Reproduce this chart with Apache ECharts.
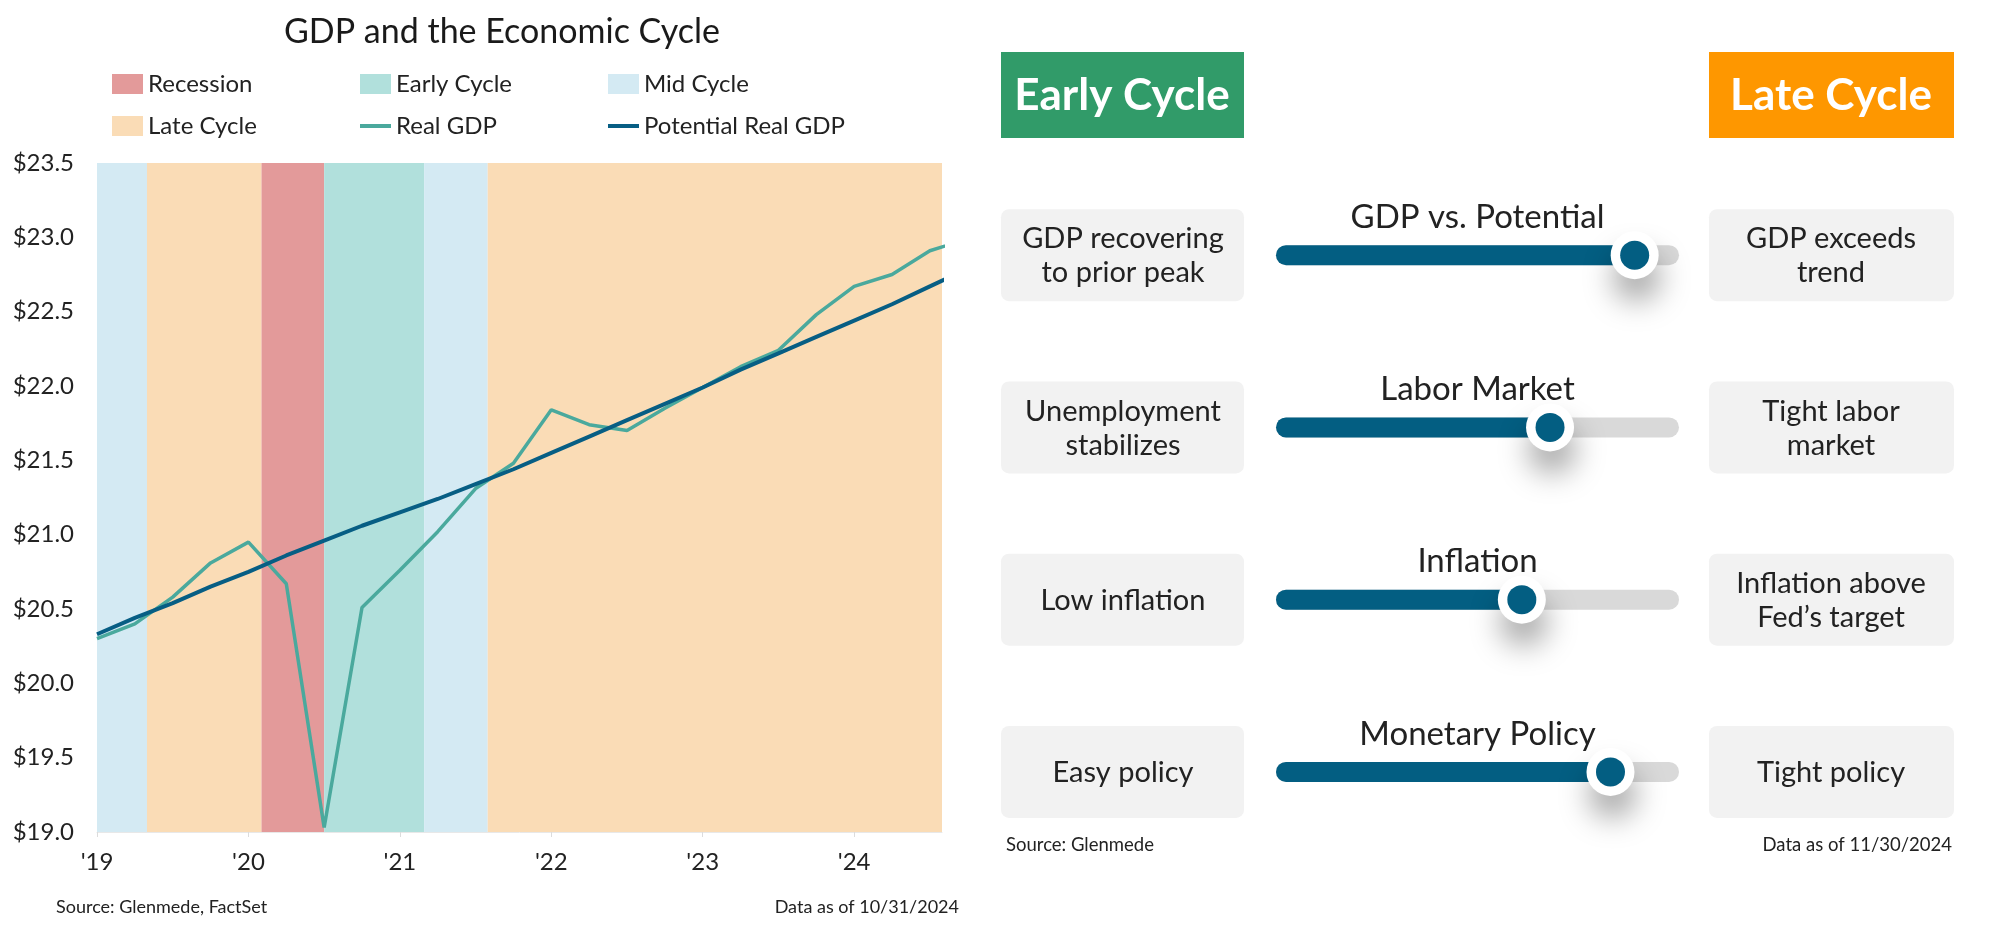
<!DOCTYPE html>
<html><head><meta charset="utf-8">
<script src="https://cdn.jsdelivr.net/npm/echarts@6/dist/echarts.min.js"></script>
<style>html,body{margin:0;padding:0;background:#fff}#c{width:2000px;height:928px}</style>
</head><body><div id="c"></div>
<script>
// ---- data ----
const quarters = ['2018Q4','2019Q1','2019Q2','2019Q3','2019Q4','2020Q1','2020Q2','2020Q3','2020Q4',
  '2021Q1','2021Q2','2021Q3','2021Q4','2022Q1','2022Q2','2022Q3','2022Q4',
  '2023Q1','2023Q2','2023Q3','2023Q4','2024Q1','2024Q2','2024Q3'];
const realGDP = [20.30,20.40,20.58,20.81,20.95,20.67,19.03,20.51,20.76,
  21.02,21.31,21.48,21.84,21.74,21.70,21.85,21.99,
  22.13,22.24,22.48,22.67,22.75,22.91,22.99];
const potentialGDP = [20.33,20.44,20.54,20.65,20.75,20.86,20.96,21.06,21.15,
  21.24,21.34,21.44,21.55,21.66,21.77,21.88,21.99,
  22.11,22.22,22.33,22.44,22.55,22.67,22.79];
const recessionBands = [[2020.085, 2020.5]];
const earlyBands = [[2020.5, 2021.16]];
const midBands = [[2019.0, 2019.33], [2021.16, 2021.58]];
const lateBands = [[2019.33, 2020.085], [2021.58, 2024.58]];
const yTickMin = 19, yTickMax = 23.5, yTickStep = 0.5;
const xStart = 2019, xEnd = 2024.58;

const sliderTitles = ['GDP vs. Potential','Labor Market','Inflation','Monetary Policy'];
const sliderValues = [89, 68, 61, 83];
const earlyLabels = ['GDP recovering\nto prior peak','Unemployment\nstabilizes','Low inflation','Easy policy'];
const lateLabels = ['GDP exceeds\ntrend','Tight labor\nmarket','Inflation above\nFed\u2019s target','Tight policy'];

// ---- helpers ----
const qx = q => +q.slice(0,4) + (+q.slice(5)) * 0.25; // quarter-end position
const FONT = 'Lato';
const TXT = '#222';
const C = {rec:'#e39a9a', early:'#b1e0dc', mid:'#d4eaf3', late:'#fadcb6', real:'#4aa99d', pot:'#075e84'};
const LINE_ICON = 'path://M0,0 H31 V4 H0 Z';

function bandSeries(name, color, bands){
  return {
    name, type:'line', data:[], xAxisIndex:0, yAxisIndex:0,
    itemStyle:{color}, lineStyle:{color},
    markArea:{silent:true, itemStyle:{color, opacity:1},
      data: bands.map(b => [{xAxis:b[0]}, {xAxis:b[1]}])}
  };
}

const chart = echarts.init(document.getElementById('c'), null, {renderer:'canvas'});
chart.setOption({
  backgroundColor:'#fff',
  animation:false,
  textStyle:{fontFamily:FONT, color:TXT},
  title:{text:'GDP and the Economic Cycle', left:497, top:10, textAlign:'center',
    textStyle:{fontFamily:FONT, fontSize:34, fontWeight:'normal', color:'#1a1a1a'}},
  legend:{
    left:107, top:67, width:740, itemWidth:31, itemHeight:20, itemGap:18,
    textStyle:{fontFamily:FONT, fontSize:24, color:TXT, width:194, lineHeight:20, overflow:'none'},
    data:[{name:'Recession', icon:'rect'},{name:'Early Cycle', icon:'rect'},{name:'Mid Cycle', icon:'rect'},
      {name:'Late Cycle', icon:'rect'},{name:'Real GDP', icon:LINE_ICON},{name:'Potential Real GDP', icon:LINE_ICON}]
  },
  grid:[
    {left:97, right:2000-942, top:163, bottom:928-832},
    {left:1276, width:403, top:169, height:689}
  ],
  xAxis:[
    {type:'value', gridIndex:0, min:xStart, max:xEnd, interval:1,
      axisLine:{show:true, lineStyle:{color:'#e8e8e8'}},
      axisTick:{show:true, length:5, lineStyle:{color:'#dcdcdc'}},
      splitLine:{show:false},
      axisLabel:{fontFamily:FONT, fontSize:24, color:TXT, margin:18, showMaxLabel:false,
        formatter:v => Math.abs(v - Math.round(v)) < 1e-6 ? "'" + String(Math.round(v)).slice(2) : ''}},
    {type:'value', gridIndex:1, min:0, max:100, show:false}
  ],
  yAxis:[
    {type:'value', gridIndex:0, min:yTickMin, max:yTickMax, interval:yTickStep,
      axisLine:{show:false}, axisTick:{show:false}, splitLine:{show:false},
      axisLabel:{fontFamily:FONT, fontSize:24, color:TXT, margin:23, formatter:v => '$' + v.toFixed(1)}},
    {type:'category', gridIndex:1, data:sliderTitles, inverse:true, show:false}
  ],
  series:[
    bandSeries('Recession', C.rec, recessionBands),
    bandSeries('Early Cycle', C.early, earlyBands),
    bandSeries('Mid Cycle', C.mid, midBands),
    bandSeries('Late Cycle', C.late, lateBands),
    {name:'Real GDP', type:'line', xAxisIndex:0, yAxisIndex:0, symbol:'none', clip:true, z:3,
      lineStyle:{color:C.real, width:3.5}, itemStyle:{color:C.real},
      data: quarters.map((q,i) => [qx(q), realGDP[i]])},
    {name:'Potential Real GDP', type:'line', xAxisIndex:0, yAxisIndex:0, symbol:'none', clip:true, z:4,
      lineStyle:{color:C.pot, width:4}, itemStyle:{color:C.pot},
      data: quarters.map((q,i) => [qx(q), potentialGDP[i]])},
    // right panel: boxes and titles
    {type:'custom', xAxisIndex:1, yAxisIndex:1, silent:true, z:1,
      data: sliderTitles.map((t,i) => [0, i]),
      renderItem:(params, api) => {
        const i = params.dataIndex;
        const p0 = api.coord([0, api.value(1)]);
        const p1 = api.coord([100, api.value(1)]);
        const cy = p0[1];
        return {type:'group', children:[
          {type:'rect', shape:{x:p0[0]-275, y:cy-46, width:243, height:92, r:8}, style:{fill:'#f2f2f2'}},
          {type:'rect', shape:{x:p1[0]+30, y:cy-46, width:245, height:92, r:8}, style:{fill:'#f2f2f2'}},
          {type:'text', style:{text:earlyLabels[i], x:p0[0]-153, y:cy+1, align:'center', verticalAlign:'middle',
            fontFamily:FONT, fontSize:29, lineHeight:34, fill:TXT}},
          {type:'text', style:{text:lateLabels[i], x:p1[0]+152, y:cy+1, align:'center', verticalAlign:'middle',
            fontFamily:FONT, fontSize:29, lineHeight:34, fill:TXT}},
          {type:'text', style:{text:sliderTitles[i], x:(p0[0]+p1[0])/2, y:cy-38, align:'center', verticalAlign:'middle',
            fontFamily:FONT, fontSize:33, fill:TXT}}
        ]};
      }},
    {type:'bar', xAxisIndex:1, yAxisIndex:1, data:sliderValues, barWidth:20, silent:true, z:2,
      showBackground:true, backgroundStyle:{color:'#d9d9d9', borderRadius:10},
      itemStyle:{color:'#035e82', borderRadius:10}},
    {type:'scatter', xAxisIndex:1, yAxisIndex:1, silent:true, z:3, symbolSize:48,
      data: sliderValues.map((v,i) => [v, i]),
      itemStyle:{color:'#fff', opacity:1, shadowBlur:30, shadowColor:'rgba(0,0,0,0.35)', shadowOffsetY:22, shadowOffsetX:2}},
    {type:'scatter', xAxisIndex:1, yAxisIndex:1, silent:true, z:4, symbolSize:29,
      data: sliderValues.map((v,i) => [v, i]),
      itemStyle:{color:'#035e82', opacity:1}}
  ],
  graphic:[
    {type:'rect', shape:{x:1001, y:52, width:243, height:86}, style:{fill:'#319b69'}},
    {type:'text', style:{text:'Early Cycle', x:1122, y:96, align:'center', verticalAlign:'middle',
      fontFamily:FONT, fontSize:44, fontWeight:'bold', fill:'#fff'}},
    {type:'rect', shape:{x:1709, y:52, width:245, height:86}, style:{fill:'#fe9700'}},
    {type:'text', style:{text:'Late Cycle', x:1831, y:96, align:'center', verticalAlign:'middle',
      fontFamily:FONT, fontSize:44, fontWeight:'bold', fill:'#fff'}},
    {type:'text', style:{text:'Source: Glenmede, FactSet', x:56, y:907, verticalAlign:'middle',
      fontFamily:FONT, fontSize:18, fill:TXT}},
    {type:'text', style:{text:'Data as of 10/31/2024', x:959, y:907, align:'right', verticalAlign:'middle',
      fontFamily:FONT, fontSize:18, fill:TXT}},
    {type:'text', style:{text:'Source: Glenmede', x:1006, y:845, verticalAlign:'middle',
      fontFamily:FONT, fontSize:18.5, fill:TXT}},
    {type:'text', style:{text:'Data as of 11/30/2024', x:1952, y:845, align:'right', verticalAlign:'middle',
      fontFamily:FONT, fontSize:18.5, fill:TXT}}
  ]
});
</script></body></html>
